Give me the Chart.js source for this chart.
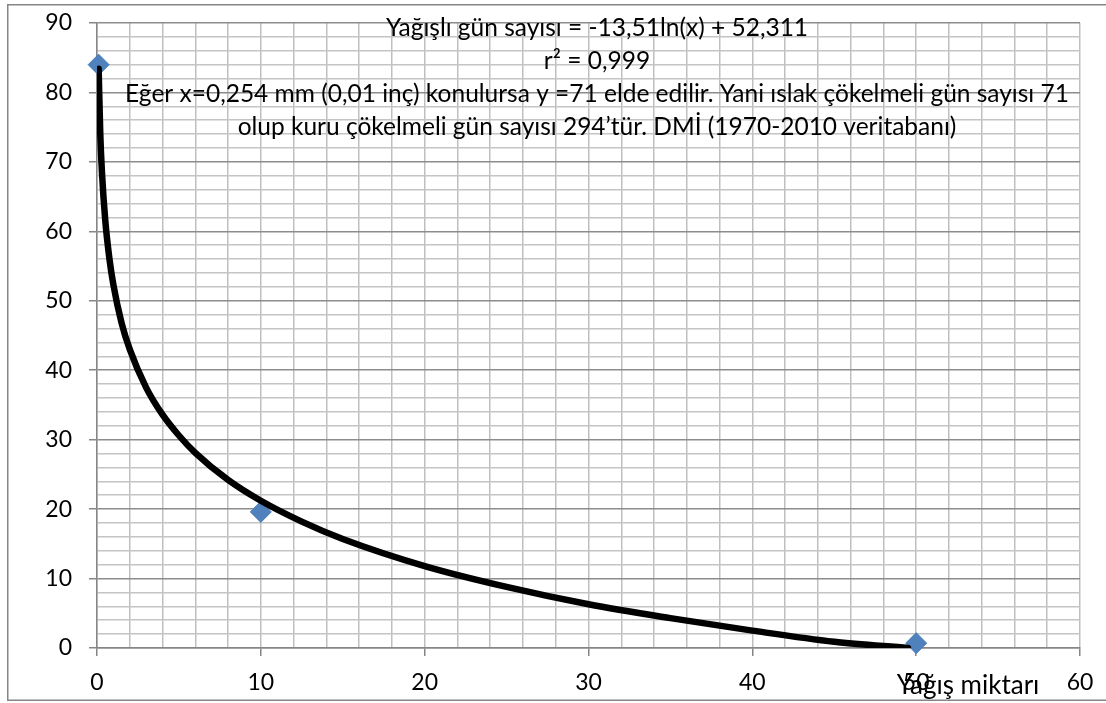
<!DOCTYPE html>
<html lang="tr">
<head>
  <meta charset="UTF-8" />
  <title>Yağışlı gün sayısı</title>
  <script src="https://cdn.jsdelivr.net/npm/chart.js"></script>
  <style>
    body { margin: 0; background: #fff; }
    #wrap { width: 1106px; height: 703px; }
  </style>
</head>
<body>
  <div id="wrap"><canvas id="chart"></canvas></div>

  <script>
    // measured points (blue diamonds)
    const rainX = [0.1, 10, 50];
    const rainDays = [84, 19.6, 0.7];

    // log trendline
    const trendX = [0.1, 0.2, 0.3, 0.5, 0.75, 1, 1.5, 2, 3, 4, 5, 6, 8, 10, 12.5, 15, 20, 25, 30, 35, 40, 45, 49.5];
    const trendY = [83.4, 74, 68.6, 61.7, 56.2, 52.3, 46.8, 43, 37.5, 33.6, 30.6, 28.1, 24.2, 21.2, 18.2, 15.7, 11.8, 8.8, 6.3, 4.3, 2.5, 0.9, 0];

    const noteLines = [
      "Yağışlı gün sayısı = -13,51ln(x) + 52,311",
      "r² = 0,999",
      "Eğer x=0,254 mm (0,01 inç) konulursa y =71 elde edilir. Yani ıslak çökelmeli gün sayısı 71",
      "olup kuru çökelmeli gün sayısı 294’tür. DMİ (1970-2010 veritabanı)"
    ];
    const xTitle = "Yağış miktarı";

    const FONT = "Lato";
    const isMajor = v => Math.abs(v % 10) < 1e-6;

    // white bg, outer frame, text box + axis title
    const decor = {
      id: 'decor',
      beforeDraw(chart) {
        const ctx = chart.ctx;
        ctx.save();
        ctx.fillStyle = '#fff';
        ctx.fillRect(0, 0, chart.width, chart.height);
        ctx.restore();
      },
      afterDraw(chart) {
        const ctx = chart.ctx;
        ctx.save();
        ctx.strokeStyle = '#868686';
        ctx.lineWidth = 1.5;
        ctx.beginPath();
        ctx.moveTo(chart.width + 5, 4.75);
        ctx.lineTo(7.75, 4.75);
        ctx.lineTo(7.75, 700.25);
        ctx.lineTo(chart.width + 5, 700.25);
        ctx.stroke();

        ctx.fillStyle = '#000';
        ctx.font = '24.5px ' + FONT;
        ctx.textAlign = 'center';
        ctx.textBaseline = 'middle';
        const ys = [28, 61, 94, 127];
        noteLines.forEach((t, i) => ctx.fillText(t, 597, ys[i]));

        ctx.font = '26px ' + FONT;
        ctx.fillText(xTitle, 968, 686);
        ctx.restore();
      }
    };

    new Chart(document.getElementById('chart'), {
      type: 'scatter',
      data: {
        datasets: [
          {
            label: 'trend',
            type: 'line',
            data: trendX.map((x, i) => ({ x, y: trendY[i] })),
            borderColor: '#000',
            borderWidth: 6.5,
            borderCapStyle: 'round',
            pointRadius: 0,
            cubicInterpolationMode: 'monotone',
            fill: false
          },
          {
            label: 'Yağışlı gün sayısı',
            data: rainX.map((x, i) => ({ x, y: rainDays[i] })),
            pointStyle: 'rectRot',
            pointRadius: 10.5,
            backgroundColor: '#4F81BD',
            borderColor: '#4A7EBB',
            borderWidth: 1,
            clip: false
          }
        ]
      },
      options: {
        responsive: true,
        maintainAspectRatio: false,
        animation: false,
        layout: { padding: { top: 23, right: 26, left: 0, bottom: 0 } },
        plugins: { legend: { display: false }, tooltip: { enabled: false } },
        scales: {
          x: {
            type: 'linear', min: 0, max: 60,
            afterFit: s => { s.height = 55; s.paddingRight = 0; s.paddingLeft = 0; },
            ticks: {
              stepSize: 2, autoSkip: false, maxRotation: 0, padding: 13,
              color: '#000', font: { family: FONT, size: 23 },
              callback: v => isMajor(v) ? v : ''
            },
            grid: {
              color: '#BFBFBF', lineWidth: 1.5, tickLength: 8,
              tickColor: c => isMajor(c.tick.value) ? '#868686' : 'rgba(0,0,0,0)'
            },
            border: { color: '#868686', width: 1.5 }
          },
          y: {
            min: 0, max: 90,
            afterFit: s => { s.width = 97; s.paddingTop = 0; s.paddingBottom = 0; },
            ticks: {
              stepSize: 2, autoSkip: false, padding: 17,
              color: '#000', font: { family: FONT, size: 23 },
              callback: v => isMajor(v) ? v : ''
            },
            grid: {
              color: c => isMajor(c.tick.value) ? '#8C8C8C' : '#C4C4C4',
              lineWidth: 1.5, tickLength: 8,
              tickColor: c => isMajor(c.tick.value) ? '#868686' : 'rgba(0,0,0,0)'
            },
            border: { color: '#868686', width: 1.5 }
          }
        }
      },
      plugins: [decor]
    });
  </script>
</body>
</html>
